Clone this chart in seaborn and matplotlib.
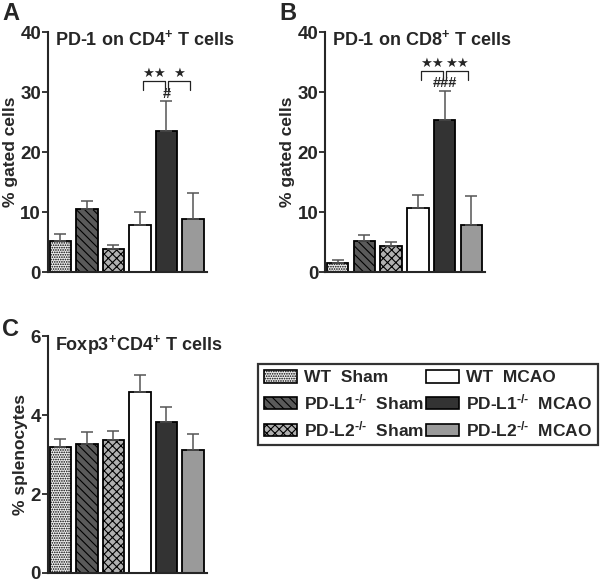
"""
PD-1 expression on CD4+/CD8+ T cells and Foxp3+CD4+ splenocytes
across WT / PD-L1-/- / PD-L2-/- mice, sham vs MCAO.
"""

import matplotlib.pyplot as plt
import pandas as pd
import seaborn as sns
from matplotlib.patches import Patch

GROUPS = ["WT Sham", "PD-L1 Sham", "PD-L2 Sham", "WT MCAO", "PD-L1 MCAO", "PD-L2 MCAO"]
LEGEND_LABELS = [
    "WT  Sham", r"PD-L1$^{\text{-/-}}$  Sham", r"PD-L2$^{\text{-/-}}$  Sham",
    "WT  MCAO", r"PD-L1$^{\text{-/-}}$  MCAO", r"PD-L2$^{\text{-/-}}$  MCAO",
]

# panel A: PD-1 on CD4+ T cells (% gated cells)
cd4_mean = [5.2, 10.5, 3.9, 7.9, 23.6, 8.9]
cd4_err = [1.1, 1.3, 0.6, 2.1, 4.9, 4.3]
# panel B: PD-1 on CD8+ T cells (% gated cells)
cd8_mean = [1.5, 5.2, 4.3, 10.7, 25.3, 7.9]
cd8_err = [0.5, 1.0, 0.8, 2.2, 4.9, 4.8]
# panel C: Foxp3+CD4+ T cells (% splenocytes)
foxp3_mean = [3.20, 3.28, 3.37, 4.58, 3.83, 3.12]
foxp3_err = [0.19, 0.30, 0.23, 0.45, 0.38, 0.41]

FACE = ["#eeeeee", "#5a5a5a", "#b0b0b0", "#ffffff", "#333333", "#9a9a9a"]
HATCH = [".......", "\\\\\\\\", "xxxx", "", "", ""]
ERR_COLOR = "#555555"

sns.set_style("ticks")
plt.rcParams["font.family"] = ["Liberation Sans", "DejaVu Sans"]
plt.rcParams["font.weight"] = "bold"
plt.rcParams["mathtext.fontset"] = "custom"
plt.rcParams["mathtext.rm"] = "Liberation Sans:bold"
plt.rcParams["mathtext.bf"] = "Liberation Sans:bold"
plt.rcParams["mathtext.default"] = "bf"
plt.rcParams["hatch.linewidth"] = 0.8


def bar_panel(ax, means, errs, ymax, step, ylabel, title):
    df = pd.DataFrame({"group": GROUPS, "value": means})
    sns.barplot(data=df, x="group", y="value", hue="group", palette=FACE,
                legend=False, width=0.8, errorbar=None, ax=ax,
                edgecolor="black", linewidth=1.3)
    for patch, h in zip(ax.patches, HATCH):
        patch.set_hatch(h)
    ax.errorbar(range(len(means)), means, yerr=[[0] * len(errs), errs],
                fmt="none", ecolor=ERR_COLOR, elinewidth=1.1, capsize=4,
                capthick=1.1, zorder=1)
    ax.set_xlim(-0.47, 5.53)
    ax.set_ylim(0, ymax)
    ax.set_yticks(range(0, ymax + 1, step))
    ax.set_xticks([])
    ax.set_xlabel("")
    ax.set_ylabel(ylabel, fontsize=12.5, fontweight="bold", labelpad=2)
    ax.tick_params(axis="y", labelsize=13.5, length=4, width=1.3, pad=1)
    for lab in ax.get_yticklabels():
        lab.set_fontweight("bold")
    sns.despine(ax=ax)
    for side in ("left", "bottom"):
        ax.spines[side].set_linewidth(1.5)
    ax.text(0.045, 1.015, title, transform=ax.transAxes, va="top", ha="left",
            fontsize=13, fontweight="bold")


def add_brackets(ax, means, errs, stars_left, stars_right, hashes):
    top = means[4] + errs[4]
    yb = top + 3.4
    legs = yb - 1.5
    for x0, x1 in [(3.13, 3.94), (4.06, 4.89)]:
        ax.plot([x0, x0, x1, x1], [legs, yb, yb, legs], color="#222222", lw=0.9)
    ax.text(3.53, yb + 0.1, stars_left, ha="center", va="bottom", fontsize=9.5,
            family="DejaVu Sans")
    ax.text(4.47, yb + 0.1, stars_right, ha="center", va="bottom", fontsize=9.5,
            family="DejaVu Sans")
    ax.text(4.0, top + 0.1, hashes, ha="center", va="bottom", fontsize=10.5,
            fontweight="bold")


fig = plt.figure(figsize=(6.0, 5.84), dpi=100)
ax_a = fig.add_axes([0.080, 0.534, 0.265, 0.411])
ax_b = fig.add_axes([0.542, 0.534, 0.267, 0.411])
ax_c = fig.add_axes([0.080, 0.019, 0.265, 0.405])

bar_panel(ax_a, cd4_mean, cd4_err, 40, 10, "% gated cells", r"PD-1 on CD4$^{+}$ T cells")
add_brackets(ax_a, cd4_mean, cd4_err, "★★", "★", "#")
bar_panel(ax_b, cd8_mean, cd8_err, 40, 10, "% gated cells", r"PD-1 on CD8$^{+}$ T cells")
add_brackets(ax_b, cd8_mean, cd8_err, "★★", "★★", "###")
bar_panel(ax_c, foxp3_mean, foxp3_err, 6, 2, "% splenocytes", r"Foxp3$^{+}$CD4$^{+}$ T cells")

for label, x, y in [("A", 0.004, 0.997), ("B", 0.466, 0.997), ("C", 0.004, 0.455)]:
    fig.text(x, y, label, fontsize=17, fontweight="bold", va="top", ha="left")

handles = [Patch(facecolor=f, edgecolor="black", hatch=h, linewidth=1.2)
           for f, h in zip(FACE, HATCH)]
leg = fig.legend(handles, LEGEND_LABELS, ncol=2, loc="center",
                 bbox_to_anchor=(0.43, 0.243, 0.567, 0.129), mode="expand",
                 fontsize=12.5, frameon=True, fancybox=False,
                 handlelength=1.9, handleheight=0.75, labelspacing=0.4,
                 columnspacing=0.8, handletextpad=0.4, borderpad=0.35,
                 borderaxespad=0)
leg.get_frame().set_edgecolor("black")
leg.get_frame().set_linewidth(1.6)

fig.savefig("out.png", dpi=100)
